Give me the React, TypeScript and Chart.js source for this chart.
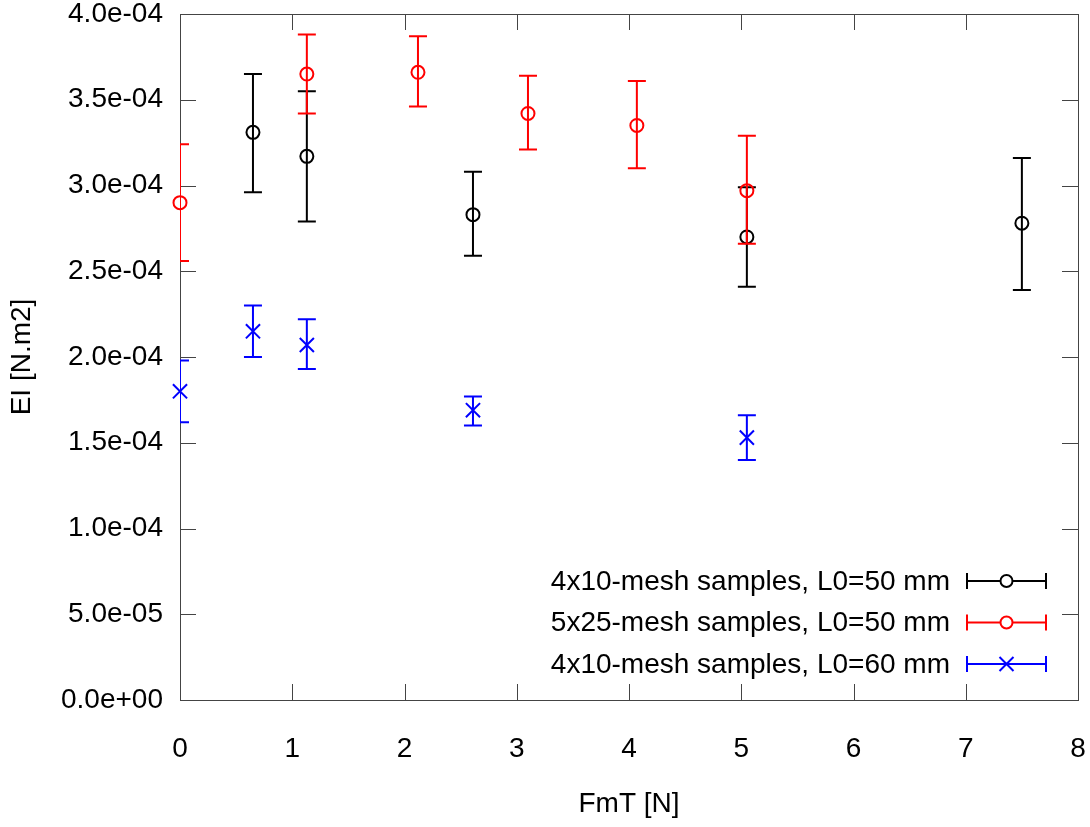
import React, { useEffect, useRef } from 'react';
import { Chart, registerables } from 'chart.js';

Chart.register(...registerables);

// ---------------- data ----------------
const seriesLabels = [
  '4x10-mesh samples, L0=50 mm',
  '5x25-mesh samples, L0=50 mm',
  '4x10-mesh samples, L0=60 mm',
];
const seriesColors = ['#000000', '#ff0000', '#0000ff'];
const seriesMarkers = ['circle', 'circle', 'crossRot'];

// 4x10-mesh, L0=50 mm
const xA = [0.65, 1.13, 2.61, 5.05, 7.5];
const yA = [3.31e-4, 3.17e-4, 2.83e-4, 2.7e-4, 2.78e-4];
const loA = [2.96e-4, 2.79e-4, 2.59e-4, 2.41e-4, 2.39e-4];
const hiA = [3.65e-4, 3.55e-4, 3.08e-4, 2.99e-4, 3.16e-4];

// 5x25-mesh, L0=50 mm
const xB = [0, 1.13, 2.12, 3.1, 4.07, 5.05];
const yB = [2.9e-4, 3.65e-4, 3.66e-4, 3.42e-4, 3.35e-4, 2.97e-4];
const loB = [2.56e-4, 3.42e-4, 3.46e-4, 3.21e-4, 3.1e-4, 2.66e-4];
const hiB = [3.24e-4, 3.88e-4, 3.87e-4, 3.64e-4, 3.61e-4, 3.29e-4];

// 4x10-mesh, L0=60 mm
const xC = [0, 0.65, 1.13, 2.61, 5.05];
const yC = [1.8e-4, 2.15e-4, 2.07e-4, 1.69e-4, 1.53e-4];
const loC = [1.62e-4, 2.0e-4, 1.93e-4, 1.6e-4, 1.4e-4];
const hiC = [1.98e-4, 2.3e-4, 2.22e-4, 1.77e-4, 1.66e-4];

const xTitle = 'FmT [N]';
const yTitle = 'EI [N.m2]';
const xMin = 0, xMax = 8, xStep = 1;
const yMin = 0, yMax = 4e-4, yStep = 5e-5;

const FONT = 'Liberation Sans, Arial, sans-serif';
const FS = 28;

const fmtExp = (v: number) => {
  const s = Number(v).toExponential(1);
  const [m, e] = s.split('e');
  const sign = e[0];
  const digits = e.slice(1).padStart(2, '0');
  return `${m}e${sign}${digits}`;
};

const build = (xs: number[], ys: number[], lo: number[], hi: number[]) =>
  xs.map((x, i) => ({ x, y: ys[i], lo: lo[i], hi: hi[i] }));

const errorBarPlugin = {
  id: 'errorBars',
  beforeDatasetDraw(chart: any, args: any) {
    const ds = chart.data.datasets[args.index];
    const { ctx, chartArea, scales } = chart;
    ctx.save();
    ctx.beginPath();
    ctx.rect(chartArea.left, chartArea.top, chartArea.right - chartArea.left, chartArea.bottom - chartArea.top);
    ctx.clip();
    ctx.strokeStyle = ds.pointBorderColor;
    ctx.lineWidth = 2;
    const cap = 9;
    ds.data.forEach((d: any) => {
      const px = scales.x.getPixelForValue(d.x);
      const pl = scales.y.getPixelForValue(d.lo);
      const ph = scales.y.getPixelForValue(d.hi);
      ctx.beginPath();
      ctx.moveTo(px, pl);
      ctx.lineTo(px, ph);
      ctx.moveTo(px - cap, pl);
      ctx.lineTo(px + cap, pl);
      ctx.moveTo(px - cap, ph);
      ctx.lineTo(px + cap, ph);
      ctx.stroke();
    });
    ctx.restore();
  },
};

const framePlugin = {
  id: 'frame',
  beforeDatasetsDraw(chart: any) {
    const { ctx, chartArea, scales } = chart;
    const { left, right, top, bottom } = chartArea;
    const tl = 16;
    ctx.save();
    ctx.strokeStyle = '#444444';
    ctx.lineWidth = 1;
    ctx.beginPath();
    scales.x.ticks.forEach((t: any) => {
      const px = Math.round(scales.x.getPixelForValue(t.value)) + 0.5;
      ctx.moveTo(px, bottom);
      ctx.lineTo(px, bottom - tl);
      ctx.moveTo(px, top);
      ctx.lineTo(px, top + tl);
    });
    scales.y.ticks.forEach((t: any) => {
      const py = Math.round(scales.y.getPixelForValue(t.value)) + 0.5;
      ctx.moveTo(left, py);
      ctx.lineTo(left + tl, py);
      ctx.moveTo(right, py);
      ctx.lineTo(right - tl, py);
    });
    ctx.stroke();
    ctx.strokeRect(Math.round(left) + 0.5, Math.round(top) + 0.5, Math.round(right - left), Math.round(bottom - top));
    ctx.restore();
  },
};

const legendPlugin = {
  id: 'customLegend',
  afterDraw(chart: any) {
    const { ctx, chartArea } = chart;
    const textRight = chartArea.right - 128;
    const lineL = chartArea.right - 111;
    const lineR = chartArea.right - 32;
    const rowsY = [581, 622.5, 664];
    ctx.save();
    ctx.font = `${FS}px ${FONT}`;
    ctx.textAlign = 'right';
    ctx.textBaseline = 'middle';
    seriesLabels.forEach((lab, i) => {
      const y = rowsY[i];
      const c = seriesColors[i];
      ctx.fillStyle = '#000000';
      ctx.fillText(lab, textRight, y + 1);
      ctx.strokeStyle = c;
      ctx.lineWidth = 2;
      ctx.beginPath();
      ctx.moveTo(lineL, y);
      ctx.lineTo(lineR, y);
      ctx.moveTo(lineL, y - 8);
      ctx.lineTo(lineL, y + 8);
      ctx.moveTo(lineR, y - 8);
      ctx.lineTo(lineR, y + 8);
      ctx.stroke();
      const cx = (lineL + lineR) / 2;
      if (seriesMarkers[i] === 'circle') {
        ctx.fillStyle = '#ffffff';
        ctx.beginPath();
        ctx.arc(cx, y, 6, 0, Math.PI * 2);
        ctx.fill();
        ctx.stroke();
      } else {
        ctx.beginPath();
        ctx.moveTo(cx - 7, y - 7);
        ctx.lineTo(cx + 7, y + 7);
        ctx.moveTo(cx - 7, y + 7);
        ctx.lineTo(cx + 7, y - 7);
        ctx.stroke();
      }
    });
    ctx.restore();
  },
};

export default function App() {
  const ref = useRef<HTMLCanvasElement | null>(null);
  useEffect(() => {
    if (!ref.current) return;
    Chart.defaults.font.family = FONT;
    Chart.defaults.font.size = FS;
    Chart.defaults.color = '#000000';
    const sets = [
      build(xA, yA, loA, hiA),
      build(xB, yB, loB, hiB),
      build(xC, yC, loC, hiC),
    ];
    const chart = new Chart(ref.current, {
      type: 'scatter',
      data: {
        datasets: sets.map((data, i) => ({
          label: seriesLabels[i],
          data,
          showLine: false,
          pointStyle: seriesMarkers[i] as any,
          pointRadius: seriesMarkers[i] === 'circle' ? 6.5 : 10,
          pointBorderWidth: 2,
          pointBorderColor: seriesColors[i],
          pointBackgroundColor: 'rgba(0,0,0,0)',
          borderColor: seriesColors[i],
          clip: false as any,
          order: 3 - i,
        })),
      },
      options: {
        animation: false,
        responsive: false,
        events: [],
        layout: { padding: { top: 14, right: 12, left: 0, bottom: 0 } },
        plugins: { legend: { display: false }, tooltip: { enabled: false } },
        scales: {
          x: {
            type: 'linear',
            min: xMin,
            max: xMax,
            grid: { display: false },
            border: { display: false },
            ticks: { stepSize: xStep, padding: 24, font: { size: FS } },
            title: { display: true, text: xTitle, font: { size: FS }, padding: { top: 0, bottom: 6 } },
            afterFit: (s: any) => { s.height = 127; s.paddingLeft = 0; s.paddingRight = 0; },
          },
          y: {
            type: 'linear',
            min: yMin,
            max: yMax,
            grid: { display: false },
            border: { display: false },
            ticks: { stepSize: yStep, padding: 9, font: { size: FS }, callback: (v: any) => fmtExp(Number(v)) },
            title: { display: true, text: yTitle, font: { size: FS }, padding: { top: 5, bottom: 0 } },
            afterFit: (s: any) => { s.width = 180; s.paddingTop = 0; s.paddingBottom = 0; },
          },
        },
      },
      plugins: [errorBarPlugin, framePlugin, legendPlugin],
    });
    return () => chart.destroy();
  }, []);
  return (
    <div style={{ position: 'absolute', left: 0, top: 0, width: 1090, height: 827, background: '#ffffff' }}>
      <canvas ref={ref} width={1090} height={827} />
    </div>
  );
}
